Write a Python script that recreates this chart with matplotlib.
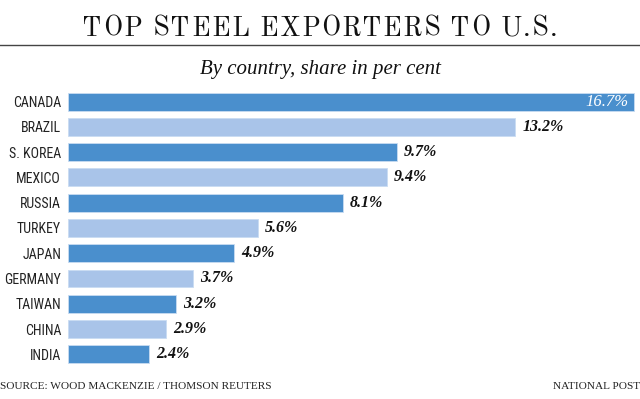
import matplotlib
matplotlib.use("Agg")
import matplotlib.pyplot as plt
from matplotlib.font_manager import FontProperties

countries = ["CANADA", "BRAZIL", "S. KOREA", "MEXICO", "RUSSIA", "TURKEY",
             "JAPAN", "GERMANY", "TAIWAN", "CHINA", "INDIA"]
shares = [16.7, 13.2, 9.7, 9.4, 8.1, 5.6, 4.9, 3.7, 3.2, 2.9, 2.4]

title = "TOP STEEL EXPORTERS TO U.S."
subtitle = "By country, share in per cent"
source = "SOURCE: WOOD MACKENZIE / THOMSON REUTERS"
credit = "NATIONAL POST"

dark = "#4a8fcd"
light = "#a9c4e9"
title_serif = ["Old Standard TT", "Liberation Serif", "DejaVu Serif"]
serif = ["Liberation Serif", "DejaVu Serif"]
narrow = ["Roboto Condensed", "Archivo Narrow", "Liberation Sans", "DejaVu Sans"]

fig = plt.figure(figsize=(6.4, 3.99), dpi=100)
ax = fig.add_axes([68 / 640, 1 - 366.9 / 399, 572 / 640, 277.9 / 399])

pos = list(range(len(countries)))
colors = [dark if i % 2 == 0 else light for i in pos]
ax.barh(pos, shares, height=0.71, color=colors, edgecolor="#c9dcf2", linewidth=0.6)

ax.set_xlim(0, 572 / 33.9)
ax.set_ylim(10.5, -0.5)
ax.set_yticks(pos)
ax.set_yticklabels(countries, family=narrow, fontsize=10, color="#222222")
ax.tick_params(axis="y", length=0, pad=5)
ax.set_xticks([])
for s in ax.spines.values():
    s.set_visible(False)

# value labels
for i, v in enumerate(shares):
    if i == 0:
        ax.annotate(f"{v}%", xy=(v, i), xytext=(-4, 0), textcoords="offset points",
                    ha="right", va="center", color="white", family=serif,
                    style="italic", fontsize=12)
    else:
        ax.annotate(f"{v}%", xy=(v, i), xytext=(5, 0), textcoords="offset points",
                    ha="left", va="center", color="#111111", family=serif,
                    style="italic", weight="bold", fontsize=11.5)

# title with wide letter spacing, one letter at a time
fig.canvas.draw()
renderer = fig.canvas.get_renderer()
tprop = FontProperties(family=title_serif, size=19.5)


def text_w(s):
    w0 = renderer.get_text_width_height_descent("HH", tprop, ismath=False)[0]
    w1 = renderer.get_text_width_height_descent("H" + s + "H", tprop, ismath=False)[0]
    return w1 - w0


widths = [text_w(c) for c in title]
target = 475.0
track = (target - sum(widths)) / (len(title) - 1)
x = 320 - target / 2
for c, w in zip(title, widths):
    fig.text(x / 640, 1 - 36 / 399, c, ha="left", va="baseline",
             fontproperties=tprop, color="#111111")
    x += w + track

fig.add_artist(plt.Line2D([0, 1], [1 - 44.5 / 399] * 2, color="#444444", lw=1))
fig.text(0.5, 1 - 74 / 399, subtitle, ha="center", va="baseline",
         family=serif, style="italic", fontsize=15, color="#111111")

fig.text(0.0, 1 - 389 / 399, source, ha="left", va="baseline",
         family=serif, fontsize=8.1, color="#222222")
fig.text(1.0, 1 - 389 / 399, credit, ha="right", va="baseline",
         family=serif, fontsize=8.1, color="#222222")

fig.savefig("out.png", dpi=100)
